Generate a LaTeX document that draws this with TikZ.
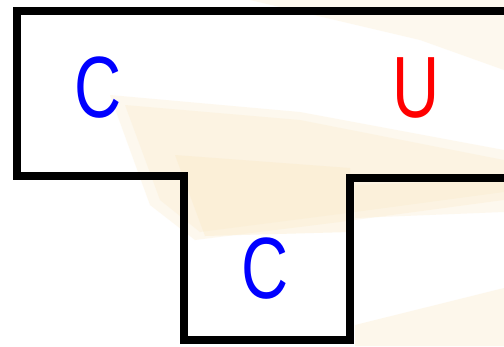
\documentclass[tikz,border=0pt]{standalone}
\usepackage{fontspec}
\setmainfont{Liberation Sans}
\definecolor{cream}{RGB}{251,234,200}
\definecolor{cblue}{RGB}{0,0,255}
\definecolor{cred}{RGB}{255,0,0}
\tikzset{
  outline/.style={line width=7.5pt, line join=miter, draw=black},
  letter/.style={inner sep=0pt, font=\fontsize{87}{87}\selectfont},
  streak/.style={fill=cream, draw=none},
}
\newcommand{\narrowch}[1]{\scalebox{0.75}[1]{#1}}
\begin{document}
\begin{tikzpicture}[x=1pt,y=-1pt]
\useasboundingbox (0,0) rectangle (504,346);
\fill[white] (0,0) rectangle (504,346);
% faint background streaks
\fill[streak, opacity=0.3] (110,95) -- (300,112) -- (504,150) -- (504,200) -- (340,222) -- (195,240) -- (150,205) -- cycle;
\fill[streak, opacity=0.3] (125,105) -- (300,120) -- (504,160) -- (504,192) -- (340,214) -- (200,232) -- (160,200) -- cycle;
\fill[streak, opacity=0.4] (175,155) -- (350,168) -- (350,232) -- (205,236) -- cycle;
\fill[streak, opacity=0.3] (250,0) -- (504,0) -- (504,70) -- (420,40) -- cycle;
\fill[streak, opacity=0.35] (355,325) -- (504,288) -- (504,346) -- (355,346) -- cycle;
\fill[streak, opacity=0.3] (504,180) -- (504,212) -- (355,218) -- (355,185) -- cycle;
% T outline
\coordinate (tr) at (504,11);
\coordinate (tl) at (17,11);
\coordinate (ml) at (17,176);
\coordinate (sl) at (184,176);
\coordinate (bl) at (184,340);
\coordinate (br) at (350,340);
\coordinate (sr) at (350,178);
\coordinate (mr) at (504,178);
\draw[outline] (tr) -- (tl) -- (ml) -- (sl) -- (bl) -- (br) -- (sr) -- (mr);
% letters
\node[letter, text=cblue] (c1) at (98,88) {\narrowch{C}};
\node[letter, text=cred] (u1) at (416,88) {\narrowch{U}};
\node[letter, text=cblue] (c2) at (265,269) {\narrowch{C}};
\end{tikzpicture}
\end{document}
